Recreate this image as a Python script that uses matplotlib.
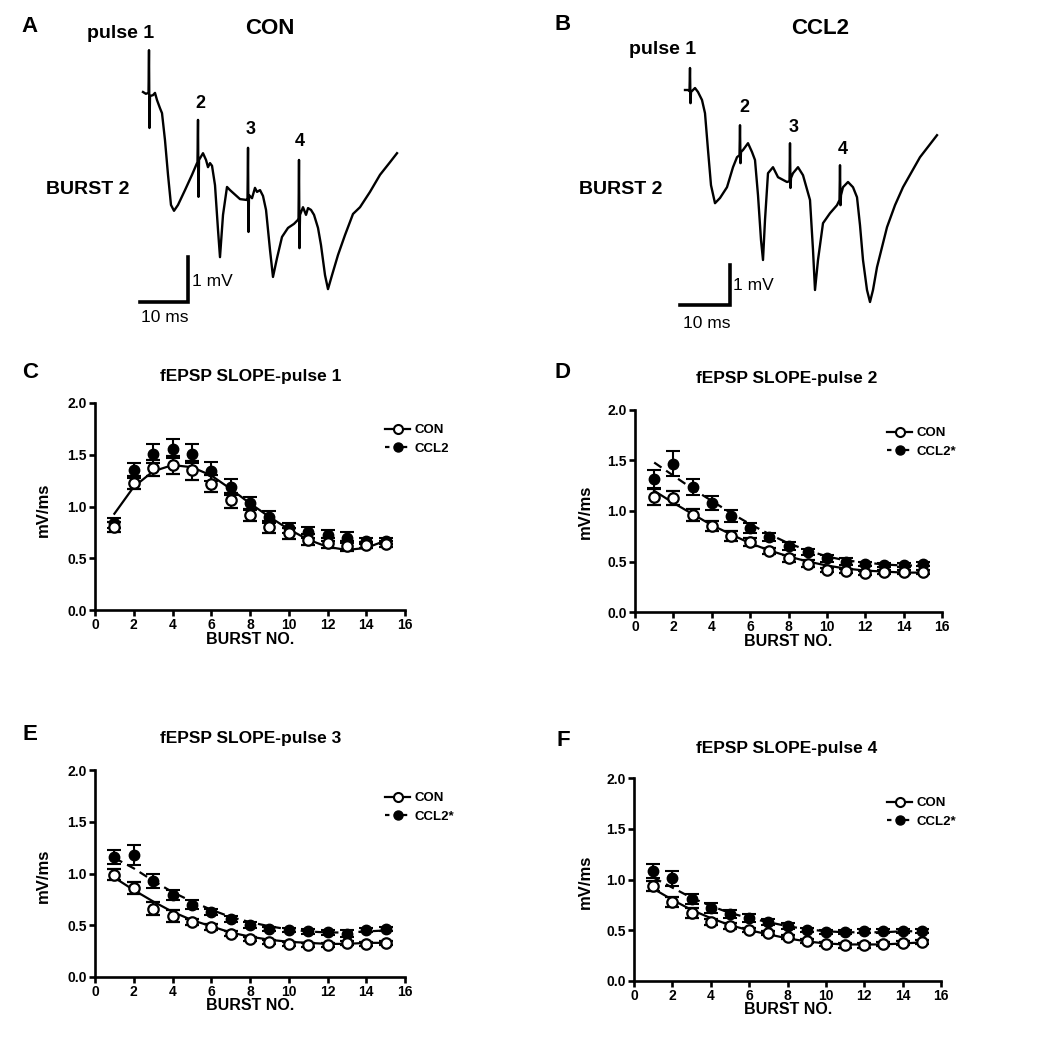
import matplotlib
matplotlib.use("Agg")
import matplotlib.pyplot as plt
from matplotlib.lines import Line2D

plt.rcParams["font.family"] = ["Liberation Sans", "DejaVu Sans"]
plt.rcParams["font.weight"] = "bold"

W, H = 1050, 1049

t_con = [0.0, 0.6, 1.15, 1.25, 1.35, 1.46, 2.08, 2.5, 2.92, 3.54, 3.96, 4.58, 5.21, 5.83,
         6.46, 7.29, 8.75, 10.21, 11.25, 11.35, 11.46, 11.56, 11.67, 12.5, 13.13, 13.54,
         13.96, 14.38, 15.0, 15.63, 16.04, 16.67, 17.5, 18.13, 18.75, 20.21, 21.67, 21.77,
         21.88, 21.98, 22.08, 22.71, 23.33, 23.75, 24.38, 25.0, 25.63, 26.46, 27.08, 27.92,
         28.96, 30.21, 31.46, 32.29, 32.4, 32.5, 32.6, 32.71, 33.33, 33.96, 34.38, 35.0,
         35.63, 36.46, 37.08, 37.92, 38.54, 39.38, 40.63, 42.08, 43.75, 45.21, 47.29,
         49.38, 51.46, 52.92]
v_con = [0.0, -0.04, -0.02, 0.93, -0.80, -0.09, -0.07, -0.02, -0.18, -0.36, -0.47, -1.07,
         -1.84, -2.51, -2.64, -2.51, -2.18, -1.84, -1.58, -1.56, -0.62, -2.33, -1.51, -1.36,
         -1.51, -1.67, -1.58, -1.64, -2.07, -3.07, -3.67, -2.73, -2.11, -2.18, -2.24, -2.38,
         -2.40, -2.38, -1.24, -3.11, -2.29, -2.36, -2.13, -2.22, -2.18, -2.31, -2.62, -3.51,
         -4.11, -3.69, -3.22, -3.02, -2.93, -2.84, -2.84, -1.51, -3.47, -2.73, -2.56, -2.73,
         -2.58, -2.62, -2.73, -3.02, -3.40, -4.07, -4.38, -4.07, -3.62, -3.18, -2.71, -2.56,
         -2.22, -1.84, -1.56, -1.36]

t_ccl2 = [0.0, 0.6, 0.9, 1.0, 1.1, 1.2, 2.0, 2.6, 3.4, 4.0, 4.6, 5.2, 6.0, 7.0, 8.4, 9.6,
          10.4, 10.9, 11.0, 11.1, 11.2, 11.6, 12.6, 13.4, 14.0, 14.6, 15.2, 15.6, 16.0,
          16.6, 17.6, 18.6, 20.4, 20.9, 21.0, 21.1, 21.2, 21.6, 22.6, 23.6, 25.0, 25.6,
          26.0, 26.6, 27.6, 29.0, 30.4, 30.9, 31.0, 31.1, 31.2, 31.6, 32.6, 33.6, 34.4,
          35.0, 35.6, 36.4, 37.0, 37.6, 38.4, 40.4, 42.0, 43.6, 47.0, 50.4]
v_ccl2 = [0.0, 0.0, -0.03, 0.55, -0.33, -0.05, 0.05, -0.05, -0.25, -0.58, -1.50, -2.38,
          -2.83, -2.70, -2.43, -1.93, -1.68, -1.63, -0.88, -1.83, -1.55, -1.50, -1.33, -1.55,
          -1.75, -2.63, -3.75, -4.25, -3.25, -2.08, -1.93, -2.18, -2.30, -2.28, -1.33, -2.45,
          -2.20, -2.08, -1.93, -2.13, -2.75, -4.00, -5.00, -4.25, -3.33, -3.08, -2.88, -2.75,
          -1.88, -2.88, -2.63, -2.43, -2.30, -2.43, -2.68, -3.38, -4.25, -5.00, -5.30, -5.00,
          -4.43, -3.43, -2.88, -2.43, -1.68, -1.13]

# ---- fEPSP slope (mV/ms) per burst ----
bursts = list(range(1, 16))

con_p1 = [0.80, 1.23, 1.37, 1.40, 1.35, 1.22, 1.06, 0.92, 0.80, 0.74, 0.68, 0.65, 0.62, 0.63, 0.64]
ccl2_p1 = [0.84, 1.35, 1.51, 1.56, 1.51, 1.34, 1.19, 1.03, 0.90, 0.79, 0.75, 0.72, 0.70, 0.67, 0.67]
con_p1_sem = [0.05, 0.06, 0.08, 0.09, 0.09, 0.08, 0.07, 0.06, 0.06, 0.05, 0.05, 0.05, 0.05, 0.03, 0.03]
ccl2_p1_sem = [0.05, 0.07, 0.09, 0.09, 0.09, 0.09, 0.08, 0.06, 0.06, 0.05, 0.05, 0.05, 0.05, 0.03, 0.03]
fit_con_p1 = [0.93, 1.19, 1.34, 1.40, 1.38, 1.30, 1.17, 1.03, 0.90, 0.78, 0.68, 0.61, 0.58, 0.60, 0.67]

con_p2 = [1.14, 1.13, 0.96, 0.85, 0.75, 0.69, 0.60, 0.53, 0.48, 0.42, 0.41, 0.39, 0.40, 0.40, 0.40]
ccl2_p2 = [1.32, 1.47, 1.24, 1.08, 0.95, 0.83, 0.74, 0.65, 0.59, 0.53, 0.50, 0.48, 0.47, 0.47, 0.48]
con_p2_sem = [0.08, 0.07, 0.06, 0.05, 0.05, 0.04, 0.03, 0.03, 0.03, 0.02, 0.02, 0.02, 0.02, 0.02, 0.02]
ccl2_p2_sem = [0.09, 0.12, 0.08, 0.07, 0.06, 0.05, 0.04, 0.04, 0.03, 0.03, 0.03, 0.02, 0.02, 0.02, 0.02]
fit_con_p2 = [1.20, 1.08, 0.97, 0.86, 0.77, 0.68, 0.61, 0.55, 0.50, 0.46, 0.43, 0.41, 0.40, 0.39, 0.39]
fit_ccl2_p2 = [1.48, 1.35, 1.22, 1.10, 0.98, 0.87, 0.77, 0.68, 0.61, 0.55, 0.51, 0.49, 0.47, 0.46, 0.46]

con_p3 = [0.99, 0.86, 0.66, 0.59, 0.53, 0.48, 0.42, 0.37, 0.34, 0.32, 0.31, 0.31, 0.33, 0.32, 0.33]
ccl2_p3 = [1.16, 1.18, 0.93, 0.79, 0.70, 0.63, 0.56, 0.50, 0.46, 0.45, 0.44, 0.43, 0.42, 0.45, 0.46]
con_p3_sem = [0.05, 0.06, 0.06, 0.06, 0.03, 0.03, 0.02, 0.02, 0.02, 0.02, 0.02, 0.02, 0.02, 0.02, 0.02]
ccl2_p3_sem = [0.07, 0.10, 0.07, 0.05, 0.04, 0.03, 0.03, 0.03, 0.02, 0.02, 0.02, 0.02, 0.03, 0.02, 0.02]
fit_con_p3 = [0.96, 0.84, 0.73, 0.63, 0.55, 0.49, 0.43, 0.39, 0.36, 0.34, 0.33, 0.32, 0.32, 0.33, 0.33]
fit_ccl2_p3 = [1.15, 1.05, 0.93, 0.82, 0.73, 0.65, 0.58, 0.53, 0.49, 0.46, 0.44, 0.43, 0.43, 0.44, 0.45]

con_p4 = [0.94, 0.78, 0.67, 0.58, 0.54, 0.50, 0.47, 0.43, 0.39, 0.36, 0.35, 0.35, 0.36, 0.37, 0.38]
ccl2_p4 = [1.08, 1.01, 0.81, 0.72, 0.66, 0.62, 0.58, 0.54, 0.50, 0.48, 0.48, 0.49, 0.49, 0.49, 0.49]
con_p4_sem = [0.05, 0.05, 0.05, 0.03, 0.03, 0.02, 0.02, 0.02, 0.02, 0.02, 0.02, 0.02, 0.02, 0.02, 0.02]
ccl2_p4_sem = [0.07, 0.07, 0.05, 0.05, 0.04, 0.04, 0.03, 0.03, 0.02, 0.02, 0.02, 0.02, 0.02, 0.02, 0.02]
fit_con_p4 = [0.91, 0.80, 0.70, 0.62, 0.55, 0.50, 0.46, 0.42, 0.39, 0.37, 0.36, 0.36, 0.36, 0.37, 0.38]
fit_ccl2_p4 = [1.02, 0.92, 0.82, 0.74, 0.67, 0.62, 0.58, 0.54, 0.51, 0.49, 0.48, 0.48, 0.48, 0.49, 0.49]

fig = plt.figure(figsize=(W / 100, H / 100), dpi=100)


def px_axes(x0, y0, x1, y1):
    # box given in pixels, origin top-left
    return fig.add_axes([x0 / W, 1 - y1 / H, (x1 - x0) / W, (y1 - y0) / H])


def ftext(x, y, s, size=11, weight="bold", ha="center", va="center", **kw):
    fig.text(x / W, 1 - y / H, s, fontsize=size, fontweight=weight, ha=ha, va=va, **kw)


def trace_panel(box, origin, ppms, ppmv, t, v, bar_corner):
    x0, y0, x1, y1 = box
    ox, oy = origin
    ax = px_axes(*box)
    ax.set_xlim((x0 - ox) / ppms, (x1 - ox) / ppms)
    ax.set_ylim((oy - y1) / ppmv, (oy - y0) / ppmv)
    ax.axis("off")
    ax.plot(t, v, color="k", lw=1.7, solid_joinstyle="round")
    cx, cy = bar_corner
    ax.plot([cx - 10, cx, cx], [cy, cy, cy + 1], color="k", lw=2.6, solid_joinstyle="miter")


trace_panel((120, 30, 420, 340), (143, 92), 4.8, 45, t_con, v_con, (9.4, -4.67))
trace_panel((660, 30, 960, 340), (685, 90), 5.0, 40, t_ccl2, v_ccl2, (9.0, -5.375))

# panel A labels
ftext(30, 26, "A", size=16)
ftext(121, 33, "pulse 1", size=14)
ftext(270, 28, "CON", size=16)
ftext(88, 190, "BURST 2", size=14)
ftext(200, 104, "2", size=13)
ftext(251, 130, "3", size=13)
ftext(300, 142, "4", size=13)
ftext(192, 281, "1 mV", size=12.5, weight="normal", ha="left")
ftext(165, 318, "10 ms", size=12.5, weight="normal")
# panel B labels
ftext(563, 24, "B", size=16)
ftext(663, 50, "pulse 1", size=14)
ftext(820, 28, "CCL2", size=16)
ftext(621, 190, "BURST 2", size=14)
ftext(744, 108, "2", size=13)
ftext(794, 127, "3", size=13)
ftext(843, 149, "4", size=13)
ftext(733, 286, "1 mV", size=12.5, weight="normal", ha="left")
ftext(707, 323, "10 ms", size=12.5, weight="normal")


def slope_panel(box, con, con_sem, ccl2, ccl2_sem, fit_con, fit_ccl2, title, letter,
                letter_xy, title_xy, ylab_xy, xlab_xy, leg_xy, ccl2_label):
    ax = px_axes(*box)
    ax.set_xlim(0, 16)
    ax.set_ylim(0, 2.0)
    if fit_ccl2 is not None:
        ax.plot(bursts, fit_ccl2, color="k", lw=1.6, ls=(0, (4, 2.5)), zorder=2)
    ax.plot(bursts, fit_con, color="k", lw=1.6, zorder=2)
    ax.errorbar(bursts, ccl2, yerr=ccl2_sem, fmt="o", ms=7.5, mfc="k", mec="k", color="k",
                elinewidth=1.5, capsize=5, capthick=1.5, zorder=3)
    ax.errorbar(bursts, con, yerr=con_sem, fmt="o", ms=7.5, mfc="white", mec="k", mew=1.6,
                color="k", elinewidth=1.5, capsize=5, capthick=1.5, zorder=4)
    for side in ("top", "right"):
        ax.spines[side].set_visible(False)
    for side in ("left", "bottom"):
        ax.spines[side].set_linewidth(1.9)
    ax.set_xticks(range(0, 17, 2))
    ax.set_yticks([0.0, 0.5, 1.0, 1.5, 2.0])
    ax.set_yticklabels(["0.0", "0.5", "1.0", "1.5", "2.0"])
    ax.tick_params(direction="out", length=4, width=1.9, labelsize=10, pad=2)
    for lab in ax.get_xticklabels() + ax.get_yticklabels():
        lab.set_fontweight("bold")
    ftext(*letter_xy, letter, size=16)
    ftext(*title_xy, title, size=12.5)
    ftext(*ylab_xy, "mV/ms", size=12, rotation=90)
    ftext(*xlab_xy, "BURST NO.", size=11.5)
    h_con = Line2D([], [], color="k", lw=1.6, marker="o", ms=6.5, mfc="white", mec="k", mew=1.5)
    h_ccl2 = Line2D([], [], color="k", lw=1.6, ls=(0, (2, 2)), marker="o", ms=6.5, mfc="k", mec="k")
    fig.legend([h_con, h_ccl2], ["CON", ccl2_label], loc="upper left",
               bbox_to_anchor=(leg_xy[0] / W, 1 - leg_xy[1] / H), frameon=False,
               fontsize=9.5, handlelength=1.9, handletextpad=0.35, labelspacing=0.5,
               borderpad=0, borderaxespad=0)


slope_panel((95, 403, 405, 610), con_p1, con_p1_sem, ccl2_p1, ccl2_p1_sem, fit_con_p1, None,
            "fEPSP SLOPE-pulse 1", "C", (30, 372), (251, 376), (43, 510), (250, 640),
            (385, 424), "CCL2")
slope_panel((635, 410, 942, 612), con_p2, con_p2_sem, ccl2_p2, ccl2_p2_sem, fit_con_p2, fit_ccl2_p2,
            "fEPSP SLOPE-pulse 2", "D", (563, 372), (787, 378), (585, 512), (788, 642),
            (887, 427), "CCL2*")
slope_panel((95, 770, 405, 977), con_p3, con_p3_sem, ccl2_p3, ccl2_p3_sem, fit_con_p3, fit_ccl2_p3,
            "fEPSP SLOPE-pulse 3", "E", (30, 735), (251, 739), (43, 876), (250, 1006),
            (385, 792), "CCL2*")
slope_panel((634, 778, 941, 981), con_p4, con_p4_sem, ccl2_p4, ccl2_p4_sem, fit_con_p4, fit_ccl2_p4,
            "fEPSP SLOPE-pulse 4", "F", (563, 740), (787, 748), (585, 882), (788, 1010),
            (887, 797), "CCL2*")

fig.savefig("out.png", dpi=100, facecolor="white")
